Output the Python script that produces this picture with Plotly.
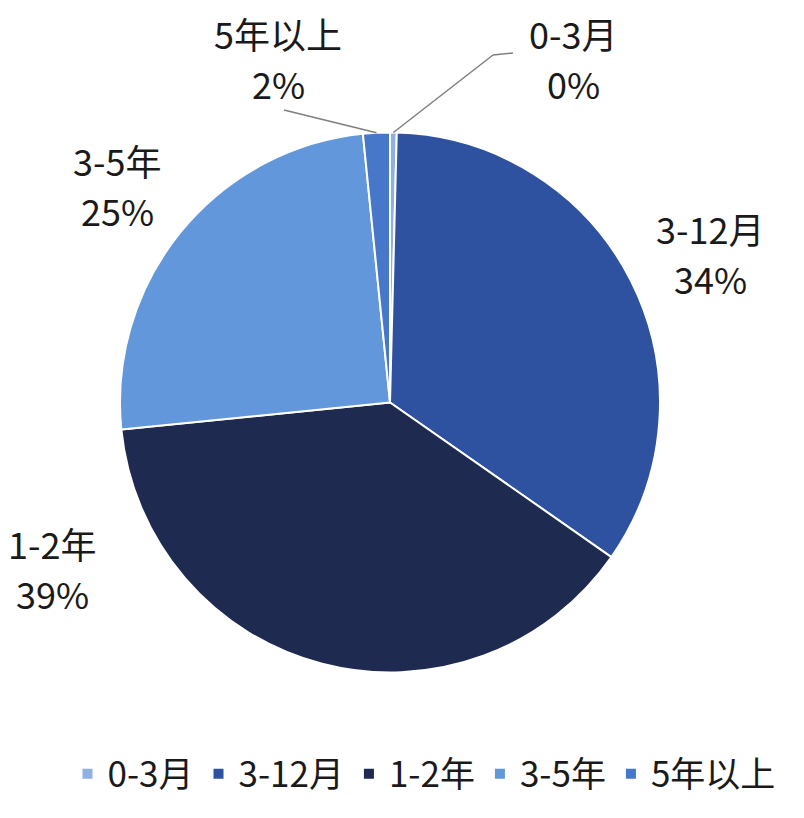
import math
import plotly.graph_objects as go

# data
labels = ["0-3月", "3-12月", "1-2年", "3-5年", "5年以上"]
values = [0.4, 34.3, 38.7, 25.0, 1.6]
pct_text = ["0%", "34%", "39%", "25%", "2%"]
colors = ["#8eb1e3", "#2f52a0", "#1e2a50", "#6297db", "#4677c8"]

OFF = 8  # page body margin of the html page
W, H = 804 - 2 * OFF, 818 - 2 * OFF
CX, CY, R = 390, 402.5, 270  # pie centre / radius in window pixels
FONT = "Noto Sans CJK SC, Noto Sans, sans-serif"

# where each outside label sits (pixel centre of first line)
label_pos = {
    "0-3月": (573, 33),
    "3-12月": (710, 228),
    "1-2年": (52, 543),
    "3-5年": (117, 160),
    "5年以上": (278, 33),
}
# leader line bends for the tiny slices
leader_pts = {"0-3月": [(493, 55), (513, 53)], "5年以上": [(284, 110)]}


def px(x):
    return (x - OFF) / W


def py(y):
    return 1 - (y - OFF) / H


fig = go.Figure()
fig.add_trace(go.Pie(
    labels=labels,
    values=values,
    sort=False,
    direction="clockwise",
    rotation=0,
    textinfo="none",
    hoverinfo="label+percent",
    marker=dict(colors=colors, line=dict(color="white", width=2)),
    domain=dict(x=[px(CX - R), px(CX + R)], y=[py(CY + R), py(CY - R)]),
))

annotations = []
shapes = []
total = sum(values)
cum = 0.0
for lab, v, pt in zip(labels, values, pct_text):
    mid = (cum + v / 2) / total * 2 * math.pi
    cum += v
    lx, ly = label_pos[lab]
    for k, txt in enumerate([lab, pt]):
        annotations.append(dict(x=px(lx), y=py(ly + 50 * k), xref="paper", yref="paper",
                                text=txt, showarrow=False, xanchor="center", yanchor="middle",
                                borderpad=0,
                                font=dict(size=36, color="#1a1a1a", family=FONT)))
    if lab in leader_pts:
        x0 = CX + R * math.sin(mid)
        y0 = CY - R * math.cos(mid)
        for ex, ey in leader_pts[lab]:
            shapes.append(dict(type="line", xref="paper", yref="paper",
                               x0=px(x0), y0=py(y0), x1=px(ex), y1=py(ey),
                               line=dict(color="#7f7f7f", width=1.5)))
            x0, y0 = ex, ey

fig.update_layout(
    width=W,
    height=H,
    margin=dict(l=0, r=0, t=0, b=0),
    paper_bgcolor="white",
    plot_bgcolor="white",
    font=dict(family=FONT, color="#1a1a1a"),
    showlegend=True,
    legend=dict(orientation="h", x=px(424), xanchor="center", y=py(774), yanchor="middle",
                font=dict(size=35, family=FONT, color="#1a1a1a"),
                itemclick=False, traceorder="normal"),
    annotations=annotations,
    shapes=shapes,
)

fig.write_html("out.html")
